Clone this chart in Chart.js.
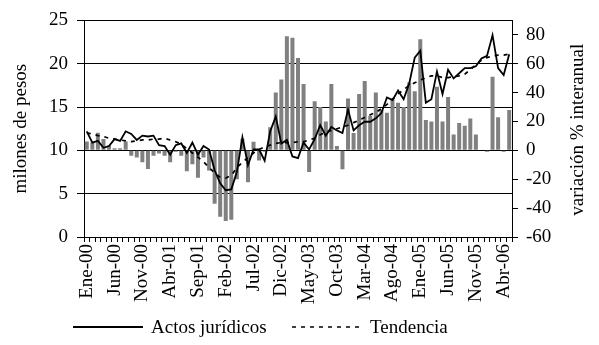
<!DOCTYPE html>
<html lang="es">
<head>
<meta charset="UTF-8">
<title>Actos jurídicos</title>
<script src="https://cdn.jsdelivr.net/npm/chart.js"></script>
<style>
    body { margin: 0; background: #fff; }
</style>
</head>
<body>
<canvas id="actos" width="599" height="345"></canvas>

<script>
    // meses ene-2000 .. may-2006
    let meses = [
        "Ene-00","Feb-00","Mar-00","Abr-00","May-00","Jun-00","Jul-00","Ago-00","Sep-00","Oct-00","Nov-00","Dic-00",
        "Ene-01","Feb-01","Mar-01","Abr-01","May-01","Jun-01","Jul-01","Ago-01","Sep-01","Oct-01","Nov-01","Dic-01",
        "Ene-02","Feb-02","Mar-02","Abr-02","May-02","Jun-02","Jul-02","Ago-02","Sep-02","Oct-02","Nov-02","Dic-02",
        "Ene-03","Feb-03","Mar-03","Abr-03","May-03","Jun-03","Jul-03","Ago-03","Sep-03","Oct-03","Nov-03","Dic-03",
        "Ene-04","Feb-04","Mar-04","Abr-04","May-04","Jun-04","Jul-04","Ago-04","Sep-04","Oct-04","Nov-04","Dic-04",
        "Ene-05","Feb-05","Mar-05","Abr-05","May-05","Jun-05","Jul-05","Ago-05","Sep-05","Oct-05","Nov-05","Dic-05",
        "Ene-06","Feb-06","Mar-06","Abr-06","May-06"
    ];

    // millones de pesos
    let actos = [
        12.2, 10.9, 11.1, 10.3, 10.5, 11.3, 11.1, 12.2, 11.9, 11.2, 11.7, 11.6,
        11.7, 10.6, 10.5, 9.5, 10.6, 10.8, 9.7, 10.9, 9.5, 10.5, 10.1, 7.7,
        6.2, 5.4, 5.5, 7.5, 11.5, 8.3, 10.1, 10.1, 8.8, 12.2, 13.9, 10.8,
        11.2, 9.3, 9.1, 10.9, 10.1, 11.3, 12.9, 11.7, 12.7, 12.3, 12.0, 14.7,
        12.3, 12.9, 13.3, 13.3, 13.7, 14.3, 16.1, 15.8, 16.9, 15.9, 17.7, 20.7,
        21.5, 15.5, 15.9, 19.1, 16.5, 19.3, 18.3, 18.9, 19.5, 19.5, 19.7, 20.6,
        20.9, 23.3, 19.5, 18.7, 21.1
    ];

    let tendencia = [
        12.0, 11.9, 11.7, 11.6, 11.4, 11.3, 11.2, 11.1, 11.0, 11.1, 11.2, 11.2,
        11.3, 11.3, 11.4, 11.2, 11.0, 10.7, 10.2, 9.7, 9.2, 8.7, 8.0, 7.4,
        6.9, 6.8, 7.1, 8.0, 8.6, 9.2, 9.7, 10.1, 10.4, 10.6, 10.8, 10.9,
        10.9, 10.9, 11.0, 11.0, 11.2, 11.4, 11.8, 12.1, 12.3, 12.5, 12.7, 12.9,
        13.2, 13.5, 13.8, 14.1, 14.4, 14.8, 15.3, 15.9, 16.5, 17.0, 17.5, 17.8,
        18.1, 18.4, 18.6, 18.6, 18.4, 18.4, 18.5, 18.6, 18.8, 19.3, 19.9, 20.4,
        20.7, 20.9, 21.0, 21.0, 21.1
    ];

    // variación % interanual (barras, eje derecho)
    let variacion = [
        6.2, 5.5, 12.2, 7.8, 3.3, 1.5, 1.5, 6.2, -3.8, -5, -8.2, -12.9,
        -3.8, -2.2, -3.8, -8.2, -1, -3.8, -14.4, -9.6, -19, -5, -14, -37,
        -46, -49, -48, -20, 8, -22, 6, -7, -1, 16, 40, 49,
        79, 78, 64, 46, -15, 34, 30, 20, 46, 3, -13, 36,
        12, 39, 48, 24, 40, 28, 26, 36, 33, 30, 47, 41,
        77, 21, 20, 44, 20, 37, 11, 19, 17, 22, 11, 0,
        -1, 51, 23, -1, 28
    ];

    let ticksIzq = [0, 5, 10, 15, 20, 25];
    let ticksDer = [-60, -40, -20, 0, 20, 40, 60, 80];

    let fuente = { family: "'Liberation Serif', 'Times New Roman', serif", size: 19 };

    // leyenda de las dos series de línea, debajo del eje
    let leyenda = {
        id: 'leyenda',
        afterDraw(chart) {
            let ctx = chart.ctx;
            let items = [
                { ds: 2, x: 73, texto: 'Actos jurídicos' },
                { ds: 1, x: 292, texto: 'Tendencia' }
            ];
            let y = 327;
            ctx.save();
            ctx.font = fuente.size + 'px ' + fuente.family;
            ctx.textBaseline = 'middle';
            ctx.fillStyle = '#000';
            items.forEach(it => {
                let d = chart.data.datasets[it.ds];
                ctx.strokeStyle = d.borderColor;
                ctx.lineWidth = d.borderWidth;
                ctx.setLineDash(d.borderDash || []);
                ctx.beginPath();
                ctx.moveTo(it.x, y);
                ctx.lineTo(it.x + 70, y);
                ctx.stroke();
                ctx.fillText(it.texto, it.x + 78, y + 1);
            });
            ctx.restore();
        }
    };

    // título del eje derecho, leído de abajo hacia arriba
    let tituloDer = {
        id: 'tituloDer',
        afterDraw(chart) {
            let ctx = chart.ctx;
            let area = chart.chartArea;
            ctx.save();
            ctx.translate(578, (area.top + area.bottom) / 2 + 1);
            ctx.rotate(-Math.PI / 2);
            ctx.font = fuente.size + 'px ' + fuente.family;
            ctx.fillStyle = '#000';
            ctx.textAlign = 'center';
            ctx.textBaseline = 'middle';
            ctx.fillText('variación % interanual', 0, 0);
            ctx.restore();
        }
    };

    let chart = new Chart(document.getElementById('actos'), {
        data: {
            labels: meses,
            datasets: [
                {
                    type: 'bar',
                    label: 'variación % interanual',
                    data: variacion,
                    yAxisID: 'yDer',
                    backgroundColor: '#808080',
                    borderWidth: 0,
                    barPercentage: 0.72,
                    categoryPercentage: 1,
                    order: 3
                },
                {
                    type: 'line',
                    label: 'Tendencia',
                    data: tendencia,
                    yAxisID: 'y',
                    borderColor: '#000',
                    borderWidth: 1.7,
                    borderDash: [4, 5],
                    pointRadius: 0,
                    tension: 0,
                    fill: false,
                    order: 2
                },
                {
                    type: 'line',
                    label: 'Actos jurídicos',
                    data: actos,
                    yAxisID: 'y',
                    borderColor: '#000',
                    borderWidth: 1.8,
                    pointRadius: 0,
                    tension: 0,
                    fill: false,
                    order: 1
                }
            ]
        },
        options: {
            responsive: false,
            animation: false,
            layout: { padding: { top: 12, left: 0, right: 0, bottom: 0 } },
            plugins: {
                legend: { display: false },
                tooltip: { enabled: false }
            },
            scales: {
                x: {
                    offset: true,
                    grid: { offset: true, drawOnChartArea: false, drawTicks: true, tickLength: 5, color: '#000' },
                    border: { color: '#000' },
                    ticks: {
                        autoSkip: false,
                        minRotation: 90,
                        maxRotation: 90,
                        padding: 2,
                        color: '#000',
                        font: fuente,
                        callback: function (v, i) {
                            return i % 5 === 0 ? this.getLabelForValue(v) : '';
                        }
                    },
                    afterFit: s => { s.height = 108; }
                },
                y: {
                    position: 'left',
                    min: 0,
                    max: 25,
                    afterBuildTicks: s => { s.ticks = ticksIzq.map(v => ({ value: v })); },
                    grid: { color: '#000', tickLength: 7 },
                    border: { color: '#000' },
                    ticks: { padding: 9, color: '#000', font: fuente },
                    title: {
                        display: true,
                        text: 'milones de pesos',
                        color: '#000',
                        font: fuente,
                        padding: { top: 10, bottom: 0 }
                    },
                    afterFit: s => { s.width = 84; }
                },
                yDer: {
                    position: 'right',
                    min: -60,
                    max: 90,
                    afterBuildTicks: s => { s.ticks = ticksDer.map(v => ({ value: v })); },
                    grid: { drawOnChartArea: false, color: '#000', tickLength: 6 },
                    border: { color: '#000' },
                    ticks: { padding: 8, color: '#000', font: fuente },
                    afterFit: s => { s.width = 87; }
                }
            }
        },
        plugins: [leyenda, tituloDer]
    });
</script>
</body>
</html>
